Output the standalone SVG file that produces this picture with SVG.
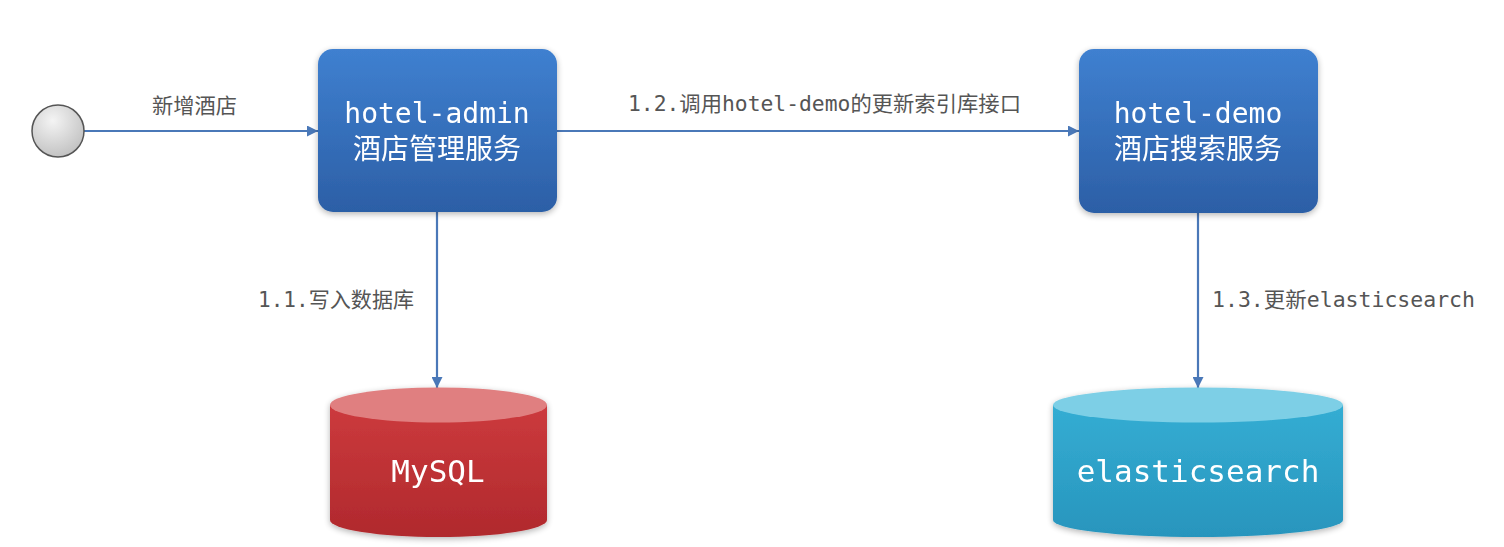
<svg xmlns="http://www.w3.org/2000/svg" width="1504" height="547" viewBox="0 0 1504 547">
<defs>
<style>
.lbl{font-family:"DejaVu Sans Mono","Noto Sans CJK SC",monospace;font-size:21px;fill:#555}
.box{font-family:"DejaVu Sans Mono","Noto Sans CJK SC",monospace;font-size:28px;fill:#fff;text-anchor:middle}
.db{font-family:"DejaVu Sans Mono",monospace;font-size:31px;fill:#fff;text-anchor:middle}
.conn{stroke:#4a78b8;stroke-width:2.2;fill:none;marker-end:url(#ah)}
</style>
<marker id="ah" viewBox="0 0 10 10" refX="10" refY="5" markerWidth="5" markerHeight="5" orient="auto" markerUnits="strokeWidth">
<path d="M0,0 L10,5 L0,10 z" fill="#4a78b8"/>
</marker>
<linearGradient id="gBox" x1="0" y1="0" x2="0" y2="1">
<stop offset="0" stop-color="#3f80d0"/>
<stop offset="1" stop-color="#2c5fa6"/>
</linearGradient>
<radialGradient id="gCirc" cx="0.4" cy="0.3" r="0.8">
<stop offset="0" stop-color="#f4f4f4"/>
<stop offset="1" stop-color="#bcbcbc"/>
</radialGradient>
<linearGradient id="gRed" x1="0" y1="0" x2="0" y2="1">
<stop offset="0" stop-color="#cc3a3d"/>
<stop offset="1" stop-color="#b0292d"/>
</linearGradient>
<linearGradient id="gBlue" x1="0" y1="0" x2="0" y2="1">
<stop offset="0" stop-color="#34add3"/>
<stop offset="1" stop-color="#2895bd"/>
</linearGradient>
<filter id="sh" x="-10%" y="-10%" width="120%" height="130%">
<feGaussianBlur in="SourceAlpha" stdDeviation="3"/>
<feOffset dy="2"/>
<feComponentTransfer><feFuncA type="linear" slope="0.3"/></feComponentTransfer>
<feMerge><feMergeNode/><feMergeNode in="SourceGraphic"/></feMerge>
</filter>
</defs>
<rect width="1504" height="547" fill="#fff"/>

<g id="connectors">
<line class="conn" x1="84" y1="131" x2="318" y2="131"/>
<line class="conn" x1="557" y1="131" x2="1079" y2="131"/>
<line class="conn" x1="437" y1="212" x2="437" y2="388"/>
<line class="conn" x1="1198" y1="213" x2="1198" y2="388"/>
<text class="lbl" x="152" y="113" textLength="85" lengthAdjust="spacingAndGlyphs">新增酒店</text>
<text class="lbl" x="628" y="111" textLength="393" lengthAdjust="spacingAndGlyphs">1.2.调用hotel-demo的更新索引库接口</text>
<text class="lbl" x="258" y="307" textLength="156" lengthAdjust="spacingAndGlyphs">1.1.写入数据库</text>
<text class="lbl" x="1212" y="307" textLength="263" lengthAdjust="spacingAndGlyphs">1.3.更新elasticsearch</text>
</g>

<g id="start">
<circle cx="58" cy="131" r="26" fill="url(#gCirc)" stroke="#555" stroke-width="1.5"/>
</g>

<g id="hotel-admin" filter="url(#sh)">
<rect x="318" y="49" width="239" height="163" rx="15" fill="url(#gBox)"/>
<text class="box" x="437" y="123">hotel-admin</text>
<text class="box" x="437" y="159">酒店管理服务</text>
</g>

<g id="hotel-demo" filter="url(#sh)">
<rect x="1079" y="49" width="239" height="164" rx="15" fill="url(#gBox)"/>
<text class="box" x="1198" y="123">hotel-demo</text>
<text class="box" x="1198" y="159">酒店搜索服务</text>
</g>

<g id="mysql" filter="url(#sh)">
<path d="M330,405 L330,520 A108.5,17 0 0 0 547,520 L547,405 Z" fill="url(#gRed)"/>
<ellipse cx="438.5" cy="405" rx="108.5" ry="17.5" fill="#e07f80"/>
<text class="db" x="438" y="482">MySQL</text>
</g>

<g id="elasticsearch" filter="url(#sh)">
<path d="M1053,405 L1053,520 A145,17 0 0 0 1343,520 L1343,405 Z" fill="url(#gBlue)"/>
<ellipse cx="1198" cy="405" rx="145" ry="17.5" fill="#7dcfe6"/>
<text class="db" x="1198" y="482">elasticsearch</text>
</g>
</svg>
